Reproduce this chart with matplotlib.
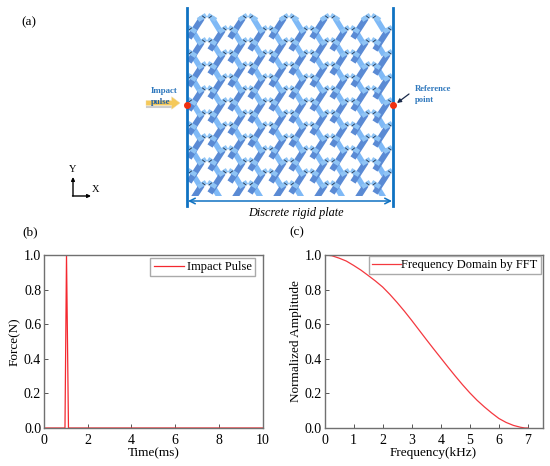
import numpy as np
import matplotlib
matplotlib.use('Agg')
import matplotlib.pyplot as plt
from matplotlib.patches import Polygon, Rectangle

plt.rcParams['font.family'] = ['Liberation Serif', 'DejaVu Serif']

# panel b, impact pulse
time_ms = [0, 0.96, 1.03, 1.12, 10]
force_n = [0, 0, 1.0, 0, 0]

# panel c, spectrum
freq_khz = [0, 0.25, 0.5, 0.75, 1, 1.25, 1.5, 1.75, 2, 2.25, 2.5, 2.75, 3, 3.25, 3.5, 3.75, 4,
            4.25, 4.5, 4.75, 5, 5.25, 5.5, 5.75, 6, 6.25, 6.5, 6.75, 6.9, 7]
amplitude = [1.0, 0.996, 0.982, 0.965, 0.94, 0.913, 0.882, 0.85, 0.815, 0.772, 0.725, 0.675, 0.622,
             0.567, 0.512, 0.458, 0.405, 0.352, 0.30, 0.25, 0.203, 0.16, 0.122, 0.087, 0.055,
             0.032, 0.015, 0.004, 0.0, 0.0]

# panel a, apex positions of the lattice in picture pixels
even_cols = [207, 248, 289, 330, 371]
odd_cols = [187, 228, 268, 309, 350, 393]
even_rows = [17, 41, 65, 89, 113, 137, 161, 184]
odd_rows = [29, 53, 77, 101, 125, 149, 172]

DARK = '#5a8ad4'
LIGHT = '#7fb9f6'
CAP = '#8fc4f5'
WALL = '#0f72c2'


def strip(ax, p0, p1, width, color, clip, z=2.0):
    p0 = np.array(p0, float)
    p1 = np.array(p1, float)
    d = p1 - p0
    n = np.array([-d[1], d[0]]) / np.hypot(*d) * width / 2
    poly = Polygon([p0 + n, p1 + n, p1 - n, p0 - n], closed=True, fc=color, ec='none', zorder=z)
    ax.add_patch(poly)
    poly.set_clip_path(clip)


def apex(ax, x, y, clip):
    # short light legs under long dark ones, then the shoulders and the small black marks
    strip(ax, (x + 5, y + 1), (x + 13, y + 14), 5.5, LIGHT, clip, 2.0)
    strip(ax, (x - 5, y + 1), (x - 18, y + 21), 6, DARK, clip, 2.1)
    strip(ax, (x - 9, y + 3), (x - 1, y - 2), 4.5, CAP, clip, 2.2)
    strip(ax, (x + 1, y - 2), (x + 9, y + 3), 4.5, CAP, clip, 2.2)
    for s in (-1, 1):
        mark, = ax.plot([x + s * 2, x + s * 4.5], [y + 1, y - 1], color='#20304a', lw=0.6, zorder=3)
        mark.set_clip_path(clip)


fig = plt.figure(figsize=(5.5, 4.66), dpi=100)

# schematic layer in picture pixels
bg = fig.add_axes([0, 0, 1, 1])
bg.set_xlim(0, 550)
bg.set_ylim(466, 0)
bg.axis('off')

clip = Rectangle((187, 10), 206, 186, transform=bg.transData)
for y in even_rows:
    for x in even_cols:
        apex(bg, x, y, clip)
for y in odd_rows:
    for x in odd_cols:
        apex(bg, x, y, clip)

bg.plot([187, 187], [8, 206], color=WALL, lw=2, zorder=4)
bg.plot([393, 393], [8, 206], color=WALL, lw=2, zorder=4)
bg.annotate('', xy=(188, 201), xytext=(392, 201),
            arrowprops=dict(arrowstyle='<->', color=WALL, lw=1.1, shrinkA=0, shrinkB=0))
bg.plot([187, 393], [105, 105], ls='none', marker='o', ms=4, color='#f03010', zorder=5)

bg.plot([147, 172], [106.5, 106.5], color='#b8b8b8', lw=1.5, alpha=0.7, zorder=3)
bg.annotate('', xy=(180, 103), xytext=(146, 103),
            arrowprops=dict(width=3.5, headwidth=9, headlength=6, fc='#f5c95a', ec='#f0dca8', lw=0.3, shrinkA=0, shrinkB=0))
bg.text(164, 91, 'Impact', color='#2f78bd', fontsize=6.4, fontweight='bold', ha='center', va='center')
bg.text(161, 102, 'pulse', color='#24609f', fontsize=6.4, fontweight='bold', ha='center', va='center', zorder=6)
bg.text(415, 89, 'Reference', color='#2f78bd', fontsize=6.2, fontweight='bold', ha='left', va='center')
bg.text(415, 100, 'point', color='#2f78bd', fontsize=6.2, fontweight='bold', ha='left', va='center')
bg.annotate('', xy=(397, 103), xytext=(409, 94),
            arrowprops=dict(arrowstyle='-|>', color='#1a2a4a', lw=0.9, mutation_scale=6, shrinkA=0, shrinkB=0))

bg.annotate('', xy=(73, 177), xytext=(73, 196),
            arrowprops=dict(arrowstyle='-|>', color='black', lw=1, mutation_scale=5, shrinkA=0, shrinkB=0))
bg.annotate('', xy=(91, 196), xytext=(72.5, 196),
            arrowprops=dict(arrowstyle='-|>', color='black', lw=1, mutation_scale=5, shrinkA=0, shrinkB=0))
bg.text(73, 170, 'Y', fontsize=7.5, ha='center', va='center')
bg.text(96, 189, 'X', fontsize=7.5, ha='center', va='center')

bg.text(295.5, 213, 'Discrete rigid plate', fontsize=8.8, style='italic', ha='center', va='center')
bg.text(29, 22, '(a)', fontsize=9.5, ha='center', va='center')
bg.text(30, 232, '(b)', fontsize=9.5, ha='center', va='center')
bg.text(297, 232, '(c)', fontsize=9.5, ha='center', va='center')

# the two data panels
W, H = 550.0, 466.0
ax_b = fig.add_axes([44 / W, 1 - 428 / H, 218.5 / W, 173 / H])
ax_c = fig.add_axes([324.5 / W, 1 - 428 / H, 218 / W, 173 / H])

ax_b.plot(time_ms, force_n, color='#f4282f', lw=0.9, label='Impact Pulse')
ax_b.set_xlim(0, 10)
ax_b.set_xticks([0, 2, 4, 6, 8, 10])
ax_b.set_xlabel('Time(ms)', fontsize=9.5, labelpad=0.5)
ax_b.set_ylabel('Force(N)', fontsize=9.5, labelpad=2)

ax_c.plot(freq_khz, amplitude, color='#f4383f', lw=0.9, label='Frequency Domain by FFT')
ax_c.set_xlim(0, 7.5)
ax_c.set_xticks(range(8))
ax_c.set_xlabel('Frequency(kHz)', fontsize=9.5, labelpad=0.5)
ax_c.set_ylabel('Normalized Amplitude', fontsize=9.5, labelpad=2)

for ax in (ax_b, ax_c):
    ax.set_ylim(0, 1)
    ax.set_yticks([0, 0.2, 0.4, 0.6, 0.8, 1.0])
    ax.tick_params(direction='in', length=3, width=0.7, labelsize=10, color='#555555')
    ax.tick_params(axis='x', pad=4)
    ax.tick_params(axis='y', pad=2)
    for sp in ax.spines.values():
        sp.set_color('#707070')
        sp.set_linewidth(1.0)
    ax.patch.set_alpha(0)

ax_b.legend(loc='upper right', bbox_to_anchor=(0.964, 0.984), borderaxespad=0, fontsize=9,
            fancybox=False, edgecolor='#aaaaaa', framealpha=1, handlelength=2.4, handletextpad=0.25,
            borderpad=0.25)
ax_c.legend(loc='upper right', bbox_to_anchor=(0.991, 0.994), borderaxespad=0, fontsize=9,
            fancybox=False, edgecolor='#aaaaaa', framealpha=1, handlelength=2.3, handletextpad=0.0,
            borderpad=0.25)

fig.savefig('out.png', dpi=100)
